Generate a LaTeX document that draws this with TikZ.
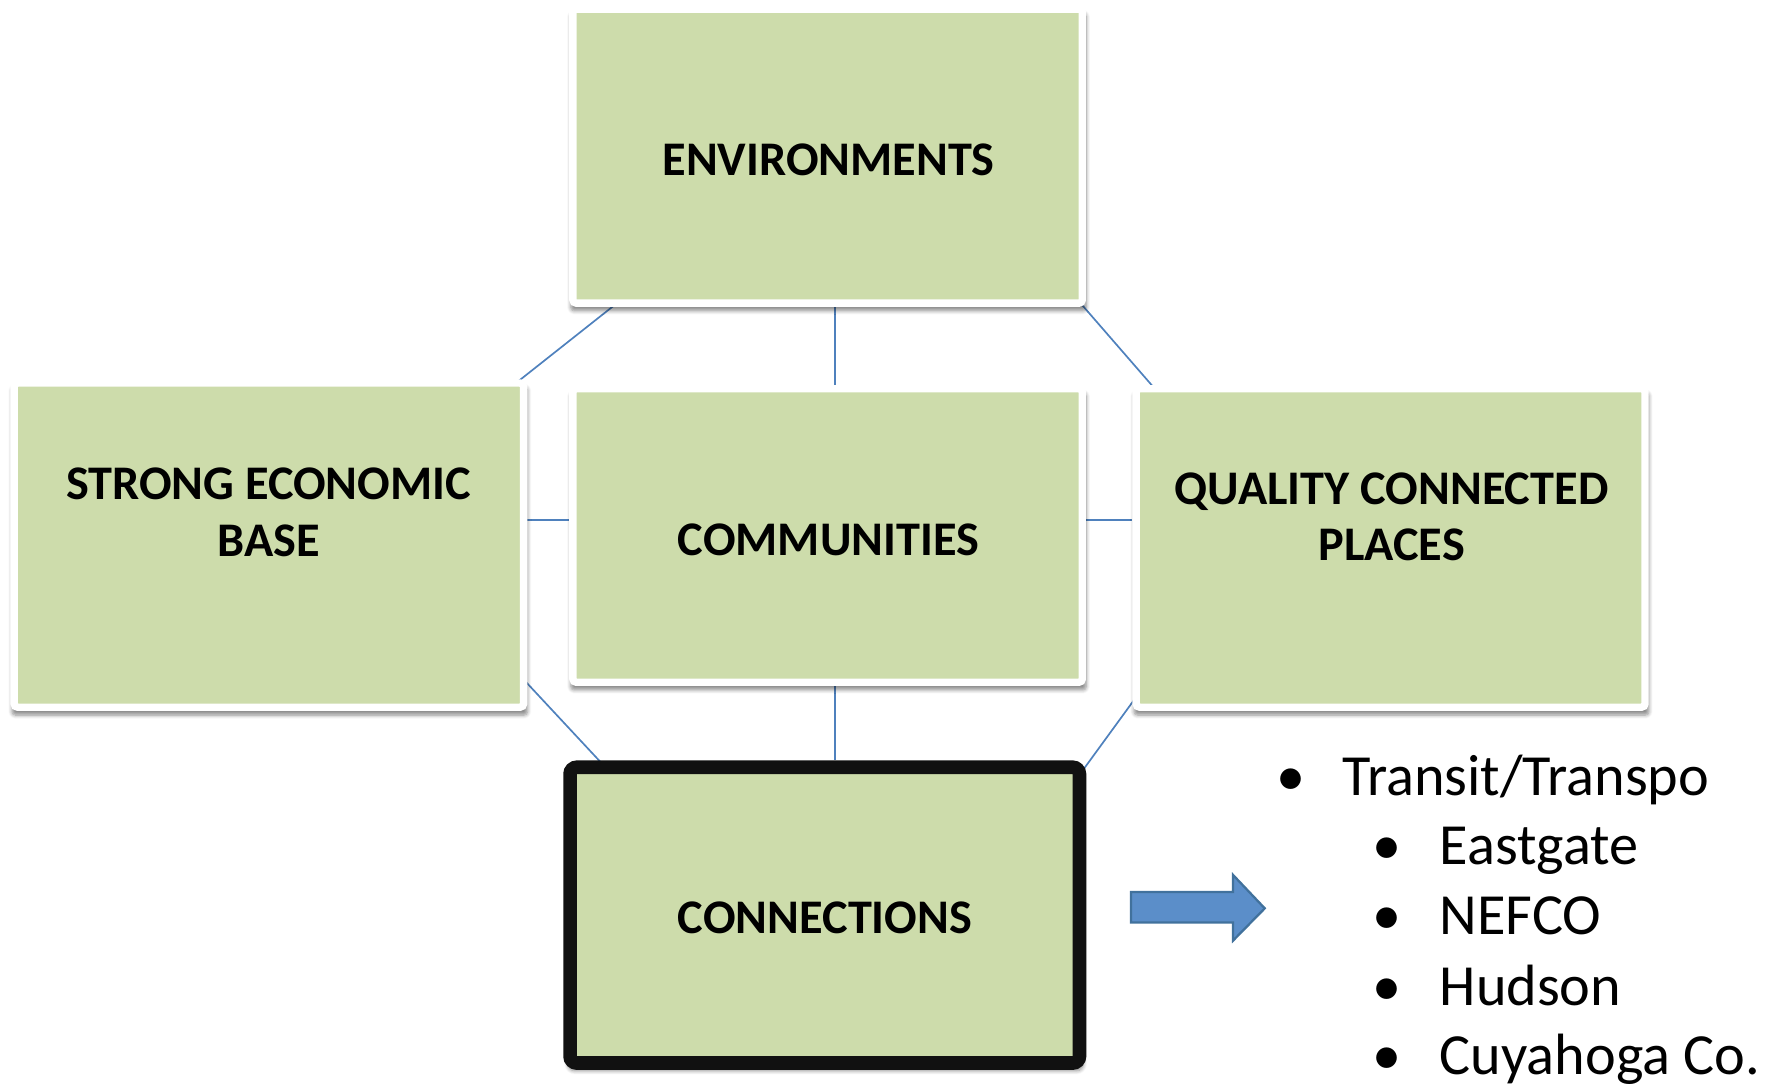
\documentclass[tikz,border=0pt]{standalone}
\usepackage{fontspec}
\setmainfont{Carlito}
\usetikzlibrary{shadows.blur,calc,backgrounds}
\definecolor{boxgreen}{RGB}{205,220,171}
\definecolor{linkblue}{RGB}{79,129,189}
\definecolor{arrowfill}{RGB}{91,142,201}
\definecolor{arrowline}{RGB}{65,113,156}
\definecolor{darkframe}{RGB}{17,17,17}
\begin{document}
\begin{tikzpicture}[x=0.5pt,y=-0.5pt,
  panel/.style={draw=white, line width=3.25pt, fill=boxgreen, rounded corners=1.5pt, inner sep=0pt,
    blur shadow={shadow xshift=0.4pt, shadow yshift=-2.6pt, shadow scale=1.012, shadow blur steps=6, shadow blur radius=1.6pt, shadow opacity=45}},
  lbl/.style={font=\bfseries\fontsize{21.3}{25}\selectfont, align=center, inner sep=0pt, text=black},
  bul/.style={anchor=base, inner sep=0pt, font=\fontsize{25.7}{30}\selectfont},
  itm/.style={anchor=base west, inner sep=0pt, font=\fontsize{25.7}{30}\selectfont},
  link/.style={draw=linkblue, line width=0.75pt}]
\useasboundingbox (0,0) rectangle (1568,960);
% boxes
\node[panel, minimum width=224.75pt, minimum height=129.75pt] (env) at (730.25,137.75) {};
\node[panel, minimum width=224.75pt, minimum height=143pt] (strong) at (237.25,481) {};
\node[panel, minimum width=224.75pt, minimum height=129.5pt] (comm) at (730.25,472.5) {};
\node[panel, minimum width=224.5pt, minimum height=140.5pt] (qual) at (1227,483.5) {};
\node[panel, draw=darkframe, line width=6pt, rounded corners=3pt, minimum width=224.75pt, minimum height=130.5pt] (conn) at (727.75,807.5) {};
% labels
\node[lbl] (envt) at (731,141) {ENVIRONMENTS};
\node[lbl] (strongt) at (237,452) {STRONG ECONOMIC\\BASE};
\node[lbl] (commt) at (731,476) {COMMUNITIES};
\node[lbl] (qualt) at (1228,456) {QUALITY CONNECTED\\PLACES};
\node[lbl] (connt) at (728,810) {CONNECTIONS};
% connectors
\begin{scope}[on background layer]
\draw[link] ($(env.south west)+(45,-5.5)$) -- ($(strong.north east)+(-14.7,7)$);
\draw[link] ($(env.south)+(6.75,0)$) -- ($(comm.north)+(6.75,0)$);
\draw[link] ($(env.south east)+(-6.8,-5.5)$) -- ($(qual.north west)+(23,7)$);
\draw[link] ($(strong.east)+(0,-22)$) -- ($(comm.west)+(0,-13.5)$);
\draw[link] ($(comm.east)+(0,-13.5)$) -- ($(qual.west)+(0,-24.5)$);
\draw[link] ($(strong.south east)+(-9.1,-34)$) -- ($(conn.north west)+(43.7,13)$);
\draw[link] ($(comm.south)+(6.75,0)$) -- ($(conn.north)+(9.25,0)$);
\draw[link] ($(qual.south west)+(4.6,-14)$) -- ($(conn.north east)+(-6.2,13)$);
\end{scope}
% arrow
\draw[fill=arrowfill, draw=arrowline, line width=1pt, line join=miter]
  (998,787) -- (1088,787) -- (1088,772) -- (1116,801.5) -- (1088,830) -- (1088,814) -- (998,814) -- cycle;
% list
\node[bul] (b1) at (1139,701.5) {•};
\node[itm] (t1) at (1184,701.5) {Transit/Transpo};
\node[bul] (b2) at (1224,762.5) {•};
\node[itm] (t2) at (1270,762.5) {Eastgate};
\node[bul] (b3) at (1224,825) {•};
\node[itm] (t3) at (1270,825) {NEFCO};
\node[bul] (b4) at (1224,887) {•};
\node[itm] (t4) at (1270,887) {Hudson};
\node[bul] (b5) at (1224,948.5) {•};
\node[itm] (t5) at (1270,948.5) {Cuyahoga Co.};
\end{tikzpicture}
\end{document}
